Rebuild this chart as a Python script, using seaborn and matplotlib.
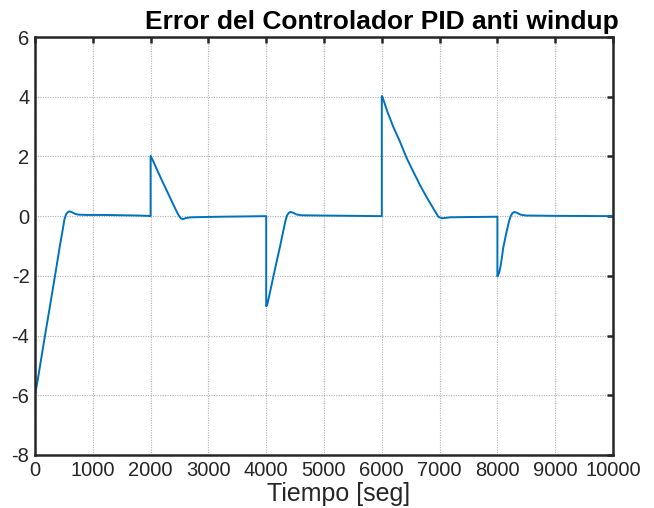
import matplotlib
matplotlib.use("Agg")
import matplotlib.pyplot as plt
import numpy as np
import pandas as pd
import seaborn as sns

# Controller error samples (time in seconds, error value)
t_step1 = [0, 50, 100, 173, 260, 346, 430, 480, 510, 540, 570, 600, 640, 690, 750,
           900, 1200, 1500, 1800, 1950, 2000]
e_step1 = [-6.0, -5.45, -4.86, -4.0, -3.0, -2.0, -1.0, -0.45, -0.1, 0.07, 0.14, 0.16,
           0.13, 0.08, 0.05, 0.04, 0.04, 0.03, 0.02, 0.01, 0.0]

t_step2 = [2000, 2000, 2050, 2100, 2200, 2300, 2400, 2470, 2520, 2560, 2620, 2700,
           2900, 3200, 3600, 4000]
e_step2 = [0.0, 2.02, 1.82, 1.6, 1.18, 0.77, 0.36, 0.08, -0.07, -0.1, -0.06, -0.04,
           -0.03, -0.02, -0.01, 0.0]

t_step3 = [4000, 4000, 4020, 4060, 4123, 4180, 4239, 4290, 4330, 4360, 4390, 4420,
           4460, 4520, 4600, 5000, 5500, 6000]
e_step3 = [0.0, -3.02, -2.95, -2.6, -2.03, -1.53, -1.02, -0.55, -0.18, 0.02, 0.11,
           0.14, 0.12, 0.06, 0.03, 0.02, 0.01, 0.0]

t_step4 = [6000, 6000, 6010, 6100, 6199, 6315, 6431, 6545, 6661, 6777, 6891, 6978,
           7036, 7100, 7180, 7500, 8000]
e_step4 = [0.0, 4.02, 4.0, 3.48, 2.99, 2.49, 1.94, 1.49, 1.04, 0.63, 0.26, -0.02,
           -0.07, -0.06, -0.04, -0.03, -0.02]

t_step5 = [8000, 8000, 8030, 8060, 8102, 8150, 8200, 8230, 8260, 8295, 8340, 8400,
           8500, 9000, 10000]
e_step5 = [-0.02, -2.02, -1.9, -1.62, -1.05, -0.6, -0.18, 0.0, 0.1, 0.14, 0.11, 0.05,
           0.02, 0.01, 0.0]

x_ticks = list(range(0, 10001, 1000))
y_ticks = list(range(-8, 7, 2))

title_text = "Error del Controlador PID anti windup"
xlabel_text = "Tiempo [seg]"

sns.set_style("white")
plt.rcParams["font.family"] = ["Liberation Sans", "DejaVu Sans"]
plt.rcParams["axes.unicode_minus"] = False

df = pd.DataFrame({
    "t": t_step1 + t_step2 + t_step3 + t_step4 + t_step5,
    "e": e_step1 + e_step2 + e_step3 + e_step4 + e_step5,
})

fig = plt.figure(figsize=(6.54, 5.08), dpi=100)
ax = fig.add_axes([35 / 654, 53 / 508, 578 / 654, 418 / 508])

sns.lineplot(data=df, x="t", y="e", ax=ax, sort=False, estimator=None,
             color="#0072BD", linewidth=1.4)

ax.set_xlim(0, 10000)
ax.set_ylim(-8, 6)
ax.set_xticks(x_ticks)
ax.set_yticks(y_ticks)
ax.set_xticklabels([str(v) for v in x_ticks])
ax.set_yticklabels([str(v) for v in y_ticks])

ax.grid(True, color="#b0b0b0", linestyle=(0, (1, 1.2)), linewidth=0.8)
for s in ax.spines.values():
    s.set_visible(True)
    s.set_color("#262626")
    s.set_linewidth(1.8)

ax.tick_params(axis="both", which="major", direction="in", length=4.5, width=1.8,
               color="#262626", top=True, right=True, labelsize=14.5,
               labelcolor="#262626", pad=4)

ax.set_xlabel(xlabel_text, fontsize=18, color="#262626", labelpad=2)
ax.xaxis.set_label_coords(0.525, -0.065)
ax.set_ylabel("")
ax.set_title(title_text, fontsize=19, fontweight="bold", color="black",
             x=0.6, pad=6)

fig.savefig("out.png", dpi=100, facecolor="white")
